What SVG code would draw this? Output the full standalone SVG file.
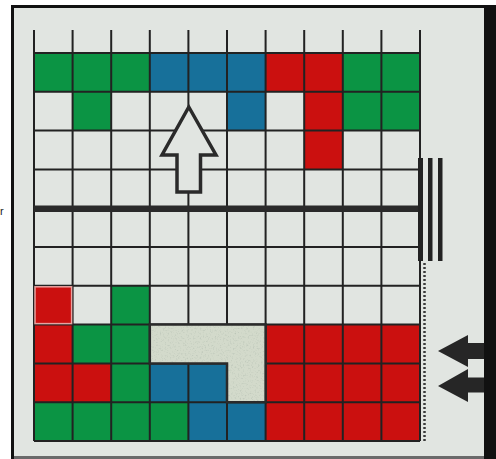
<svg xmlns="http://www.w3.org/2000/svg" width="496" height="459" viewBox="0 0 496 459">
<defs>
<style>
.g{fill:#0b9444}
.b{fill:#17709a}
.r{fill:#cb100f}
.gl{stroke:#222;stroke-width:2;fill:none}
</style>
<filter id="speck" x="0" y="0" width="1" height="1">
<feTurbulence type="fractalNoise" baseFrequency="0.6" numOctaves="2" seed="3" result="n"/>
<feColorMatrix in="n" type="matrix" values="0 0 0 0 0.5  0 0 0 0 0.56  0 0 0 0 0.48  0 0 0 -2.4 1.15" result="d"/>
<feComposite in="d" in2="SourceGraphic" operator="in" result="dd"/>
<feMerge><feMergeNode in="SourceGraphic"/><feMergeNode in="dd"/></feMerge>
</filter>
</defs>
<rect width="496" height="459" fill="#ffffff"/>
<rect x="11" y="5" width="485" height="454" fill="#111"/>
<rect x="14" y="8" width="470" height="448" fill="#e1e5e1"/>
<rect x="14" y="456" width="470" height="3" fill="#6a6a6a"/>
<g id="cells">
<rect class="g" x="34" y="53" width="38.6" height="38.8"/>
<rect class="g" x="72.6" y="53" width="38.6" height="38.8"/>
<rect class="g" x="111.2" y="53" width="38.6" height="38.8"/>
<rect class="b" x="149.8" y="53" width="38.6" height="38.8"/>
<rect class="b" x="188.4" y="53" width="38.6" height="38.8"/>
<rect class="b" x="227" y="53" width="38.6" height="38.8"/>
<rect class="r" x="265.6" y="53" width="38.6" height="38.8"/>
<rect class="r" x="304.2" y="53" width="38.6" height="38.8"/>
<rect class="g" x="342.8" y="53" width="38.6" height="38.8"/>
<rect class="g" x="381.4" y="53" width="38.6" height="38.8"/>
<rect class="g" x="72.6" y="91.8" width="38.6" height="38.8"/>
<rect class="b" x="227" y="91.8" width="38.6" height="38.8"/>
<rect class="r" x="304.2" y="91.8" width="38.6" height="38.8"/>
<rect class="g" x="342.8" y="91.8" width="38.6" height="38.8"/>
<rect class="g" x="381.4" y="91.8" width="38.6" height="38.8"/>
<rect class="r" x="304.2" y="130.6" width="38.6" height="38.8"/>
<rect class="r" x="34" y="285.8" width="38.6" height="38.8"/>
<rect class="g" x="111.2" y="285.8" width="38.6" height="38.8"/>
<rect class="r" x="34" y="324.6" width="38.6" height="38.8"/>
<rect class="g" x="72.6" y="324.6" width="38.6" height="38.8"/>
<rect class="g" x="111.2" y="324.6" width="38.6" height="38.8"/>
<rect class="r" x="265.6" y="324.6" width="154.4" height="116.4"/>
<rect class="r" x="34" y="363.4" width="38.6" height="38.8"/>
<rect class="r" x="72.6" y="363.4" width="38.6" height="38.8"/>
<rect class="g" x="111.2" y="363.4" width="38.6" height="38.8"/>
<rect class="b" x="149.8" y="363.4" width="38.6" height="38.8"/>
<rect class="b" x="188.4" y="363.4" width="38.6" height="38.8"/>
<rect class="g" x="34" y="402.2" width="154.4" height="38.8"/>
<rect class="b" x="188.4" y="402.2" width="77.2" height="38.8"/>
</g>
<g id="grid">
<path class="gl" d="M34 30V441M72.6 30V441M111.2 30V441M149.8 30V441M188.4 30V441M227 30V441M265.6 30V441M304.2 30V441M342.8 30V441M381.4 30V441M420 30V441"/>
<path class="gl" d="M34 53H420M34 91.8H420M34 130.6H420M34 169.4H420M34 247H420M34 285.8H420M34 324.6H420M34 363.4H420M34 402.2H420M34 441H420"/>
<rect x="35" y="286.8" width="36.6" height="36.8" fill="none" stroke="#e9a3a0" stroke-width="1.5"/>
</g>
<g id="textured-block">
<path d="M149.8 324.6H265.6V402.2H227V363.4H149.8Z" fill="#d3dacb" filter="url(#speck)"/>
<path d="M149.8 324.6H265.6V402.2H227V363.4H149.8Z" fill="none" stroke="#2a2a2a" stroke-width="2.5"/>
</g>
<g id="divider">
<rect x="34" y="205.5" width="387" height="6.5" fill="#2a2a2a"/>
<rect x="418" y="158" width="5" height="103" fill="#222"/>
<rect x="428" y="158" width="4.5" height="103" fill="#222"/>
<rect x="438" y="158" width="4.5" height="103" fill="#222"/>
<line x1="424.5" y1="263" x2="424.5" y2="441" stroke="#3a3a3a" stroke-width="2.5" stroke-dasharray="2 2"/>
</g>
<g id="up-arrow">
<path d="M188.8 107L216 155H200.5V192H177V155H162Z" fill="#e1e5e1" stroke="#2a2a2a" stroke-width="3.5" stroke-linejoin="miter"/>
</g>
<g id="left-arrows">
<path d="M438 351L468 335V343H484V359H468V367Z" fill="#262626"/>
<path d="M438 386L468 369V377.5H484V392.5H468V402Z" fill="#262626"/>
</g>
<text x="0" y="215" font-family="Liberation Sans, Arial, sans-serif" font-size="11" fill="#222">r</text>
</svg>
